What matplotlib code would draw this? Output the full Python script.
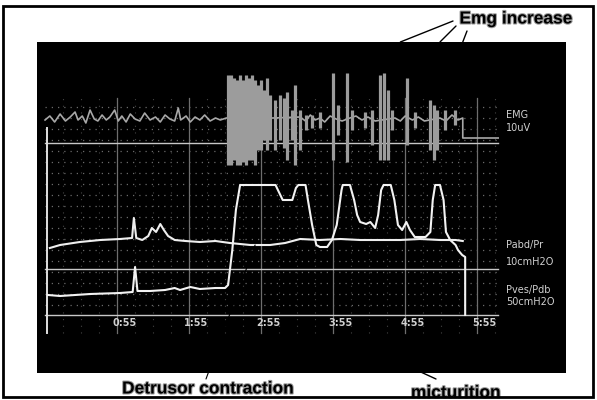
# Urodynamic trace: EMG, Pabd/Pr and Pves/Pdb with annotations

from matplotlib import pyplot as plt
from matplotlib.patches import Rectangle
import matplotlib.patheffects as pe
import numpy as np

# time in seconds, values in screen units above each channel's zero line
pves_t = [-2.5, 7.5, 32.5, 57.5, 68, 70, 72, 82.5, 95, 103, 107.5, 116, 124, 137, 145, 147.5,
          151, 154, 157.5, 172.5, 187, 191, 193, 201, 204, 206, 212, 214, 217.5, 221, 224, 230,
          234, 238, 242, 243, 249, 252.5, 255, 257.5, 262.5, 266, 270, 272.5, 275, 277, 283,
          286, 289, 292.5, 296, 299, 303, 312, 316, 318, 320, 324, 327, 329, 332.5, 337, 339,
          342.5, 345, 345]
pves_v = [20, 19, 21, 22, 23, 48, 24, 24, 25, 27, 25, 28, 26, 27, 27, 30,
          65, 105, 130, 130, 130, 120, 115, 115, 127, 130, 130, 115, 90, 70, 68, 68,
          75, 90, 125, 130, 130, 115, 100, 93, 91, 93, 87, 100, 125, 130, 130,
          115, 90, 85, 93, 85, 78, 78, 83, 115, 130, 130, 115, 83, 75, 70, 65,
          60, 58, 0]

pabd_t = [-1, 7.5, 24, 41, 57.5, 67.5, 69, 71, 76, 81, 84, 87.5, 91, 94, 97.5, 103, 112,
          124, 137, 149, 166, 182.5, 195, 207.5, 224, 241, 257.5, 274, 291, 307.5, 324, 337, 343]
pabd_v = [21, 24, 27, 29, 30, 31, 51, 31, 29, 33, 41, 37, 45, 39, 33, 29, 28,
          27, 28, 26, 24, 24, 26, 30, 29, 30, 29, 29, 29, 30, 29, 29, 28]

emg_t = [-5, -1, 3, 7.5, 12, 16, 20, 22.5, 26, 29, 32.5, 36, 39, 42.5, 46, 49, 53, 56, 59,
         62.5, 66, 70, 74, 78, 82.5, 87, 91, 95, 99, 103, 106, 108, 112.5, 116, 120, 124,
         128, 132.5, 137, 141, 146, 166, 185, 207.5, 212, 216, 220, 224, 228, 232.5, 237.5,
         242.5, 249, 254, 259, 264, 270, 286.5, 291, 295, 301, 306, 311, 324, 329, 334, 339,
         343, 343, 372.5]
emg_v = [23, 27, 21, 29, 22, 26, 31, 23, 27, 20, 33, 24, 22, 28, 23, 26, 33, 22, 27,
         21, 29, 24, 22, 30, 23, 26, 21, 28, 24, 22, 35, 23, 27, 21, 26, 23,
         28, 22, 25, 23, 25, 25, 25, 26, 22, 28, 23, 25, 21, 27, 24,
         22, 25, 27, 23, 26, 22, 25, 22, 27, 23, 26, 22, 25, 22, 28, 23,
         25, 5, 5]

# EMG bursts: time, top, bottom
burst_t = [147.5, 150, 152.5, 155, 157.5, 160, 162.5, 165, 167.5, 170, 172.5, 175, 177.5,
           180, 182.5, 186.5, 191, 194, 196.5, 201, 203, 207.5, 212, 217.5, 224, 235, 239,
           246.5, 251, 261.5, 267.5, 274, 277.5, 281, 284, 296.5, 303, 316, 319, 321.5, 328,
           336.5]
burst_hi = [68, 68, 65, 63, 68, 63, 68, 65, 68, 63, 58, 63, 53, 65, 48, 43, 48, 45, 51, 33,
            58, 33, 28, 28, 31, 70, 38, 70, 33, 31, 33, 68, 70, 53, 33, 65, 31, 43, 38, 33,
            33, 33]
burst_lo = [-22, -22, -17, -22, -22, -19, -22, -17, -17, -22, -7, -7, 3, -7, 3, -7, 3, -5,
            -17, 3, -22, -7, 13, 15, 15, -17, 8, -19, 13, 15, -2, -17, -17, -17, 13, -2, 15,
            -7, -17, -7, 13, 18]

time_ticks = [55, 115, 175, 235, 295, 355]
tick_labels = ['0:55', '1:55', '2:55', '3:55', '4:55', '5:55']

# zero line of each channel on the screen
pves_zero = 58
pabd_zero = 104
emg_zero = 230

fig = plt.figure(figsize=(5.97, 4.0), dpi=100)
fig.patch.set_facecolor('white')
ax = fig.add_axes([37/597, 27/400, 529/597, 331/400])
ax.set_facecolor('black')
ax.set_xlim(-11.7, 429)
ax.set_ylim(0, 331)
ax.set_xticks([])
ax.set_yticks([])
for s in ax.spines.values():
    s.set_visible(False)

# dotted grid
for v in np.arange(68, 270, 11):
    ax.plot([-5, 372.5], [v, v], color='#6a6a6a', lw=0.9, ls=(0, (1, 4)), zorder=1)
for t in np.arange(10, 372, 15):
    ax.plot([t, t], [40, 275], color='#444444', lw=0.8, ls=(0, (1, 5)), zorder=1)
for t in time_ticks:
    ax.plot([t, t], [40, 275], color='#6e6e6e', lw=0.9, zorder=1)
for z in [pves_zero, pabd_zero, emg_zero]:
    ax.plot([-5, 372.5], [z, z], color='#c8c8c8', lw=1.0, zorder=2)
ax.plot([-3, -3], [40, 245], color='#e0e0e0', lw=1.4, zorder=3)

# traces
ax.plot(emg_t, np.array(emg_v) + emg_zero, color='#a8a8a8', lw=1.2, zorder=3)
ax.vlines(burst_t, np.array(burst_lo) + emg_zero, np.array(burst_hi) + emg_zero,
          color='#9c9c9c', lw=2.3, zorder=3)
ax.plot(pabd_t, np.array(pabd_v) + pabd_zero, color='#eeeeee', lw=1.5, zorder=4)
ax.plot(pves_t, np.array(pves_v) + pves_zero, color='#f2f2f2', lw=1.5, zorder=4)

for t, lab in zip(time_ticks, tick_labels):
    ax.text(t + 6, 50, lab, color='#d0d0d0', fontsize=7, fontweight='bold',
            ha='center', va='center')

side = [('EMG', 258), ('10uV', 245), ('Pabd/Pr', 128), ('10cmH2O', 111),
        ('Pves/Pdb', 83), ('50cmH2O', 71)]
for lab, v in side:
    ax.text(379, v, lab, color='#d0d0d0', fontsize=7, ha='left', va='center')

# annotations outside the screen
glow = [pe.withStroke(linewidth=1.5, foreground='#9a9a9a')]
lbl = dict(fontsize=12.5, fontweight='bold', family='Liberation Sans', color='black',
           path_effects=glow, va='center')
fig.text(516/597, 1 - 19/400, 'Emg increase', ha='center', **lbl)
fig.text(208/597, 1 - 389/400, 'Detrusor contraction', ha='center', **lbl)
fig.text(456/597, 1 - 393/400, 'micturition', ha='center', **lbl)

arrow = dict(arrowstyle='-', color='black', lw=1.0, shrinkA=0, shrinkB=0)
for xt, yt, t in [(453, 21, 291), (456, 26, 324), (467, 31, 343)]:
    ax.annotate('', xy=(t, 331), xytext=(xt, 400 - yt), textcoords='figure pixels',
                arrowprops=arrow, annotation_clip=False)
ax.annotate('', xy=(170, 128), xytext=(206, 400 - 379), textcoords='figure pixels',
            arrowprops=dict(arrowstyle='-', color='black', lw=0.8, shrinkA=0, shrinkB=0),
            annotation_clip=False, zorder=6)
ax.annotate('', xy=(308, 1), xytext=(436, 400 - 379), textcoords='figure pixels',
            arrowprops=arrow, annotation_clip=False)

fig.patches.append(Rectangle((3/597, 3/400), 590/597, 391/400, transform=fig.transFigure,
                             fill=False, edgecolor='black', lw=2, zorder=10))

fig.savefig('out.png', dpi=100, facecolor='white')
